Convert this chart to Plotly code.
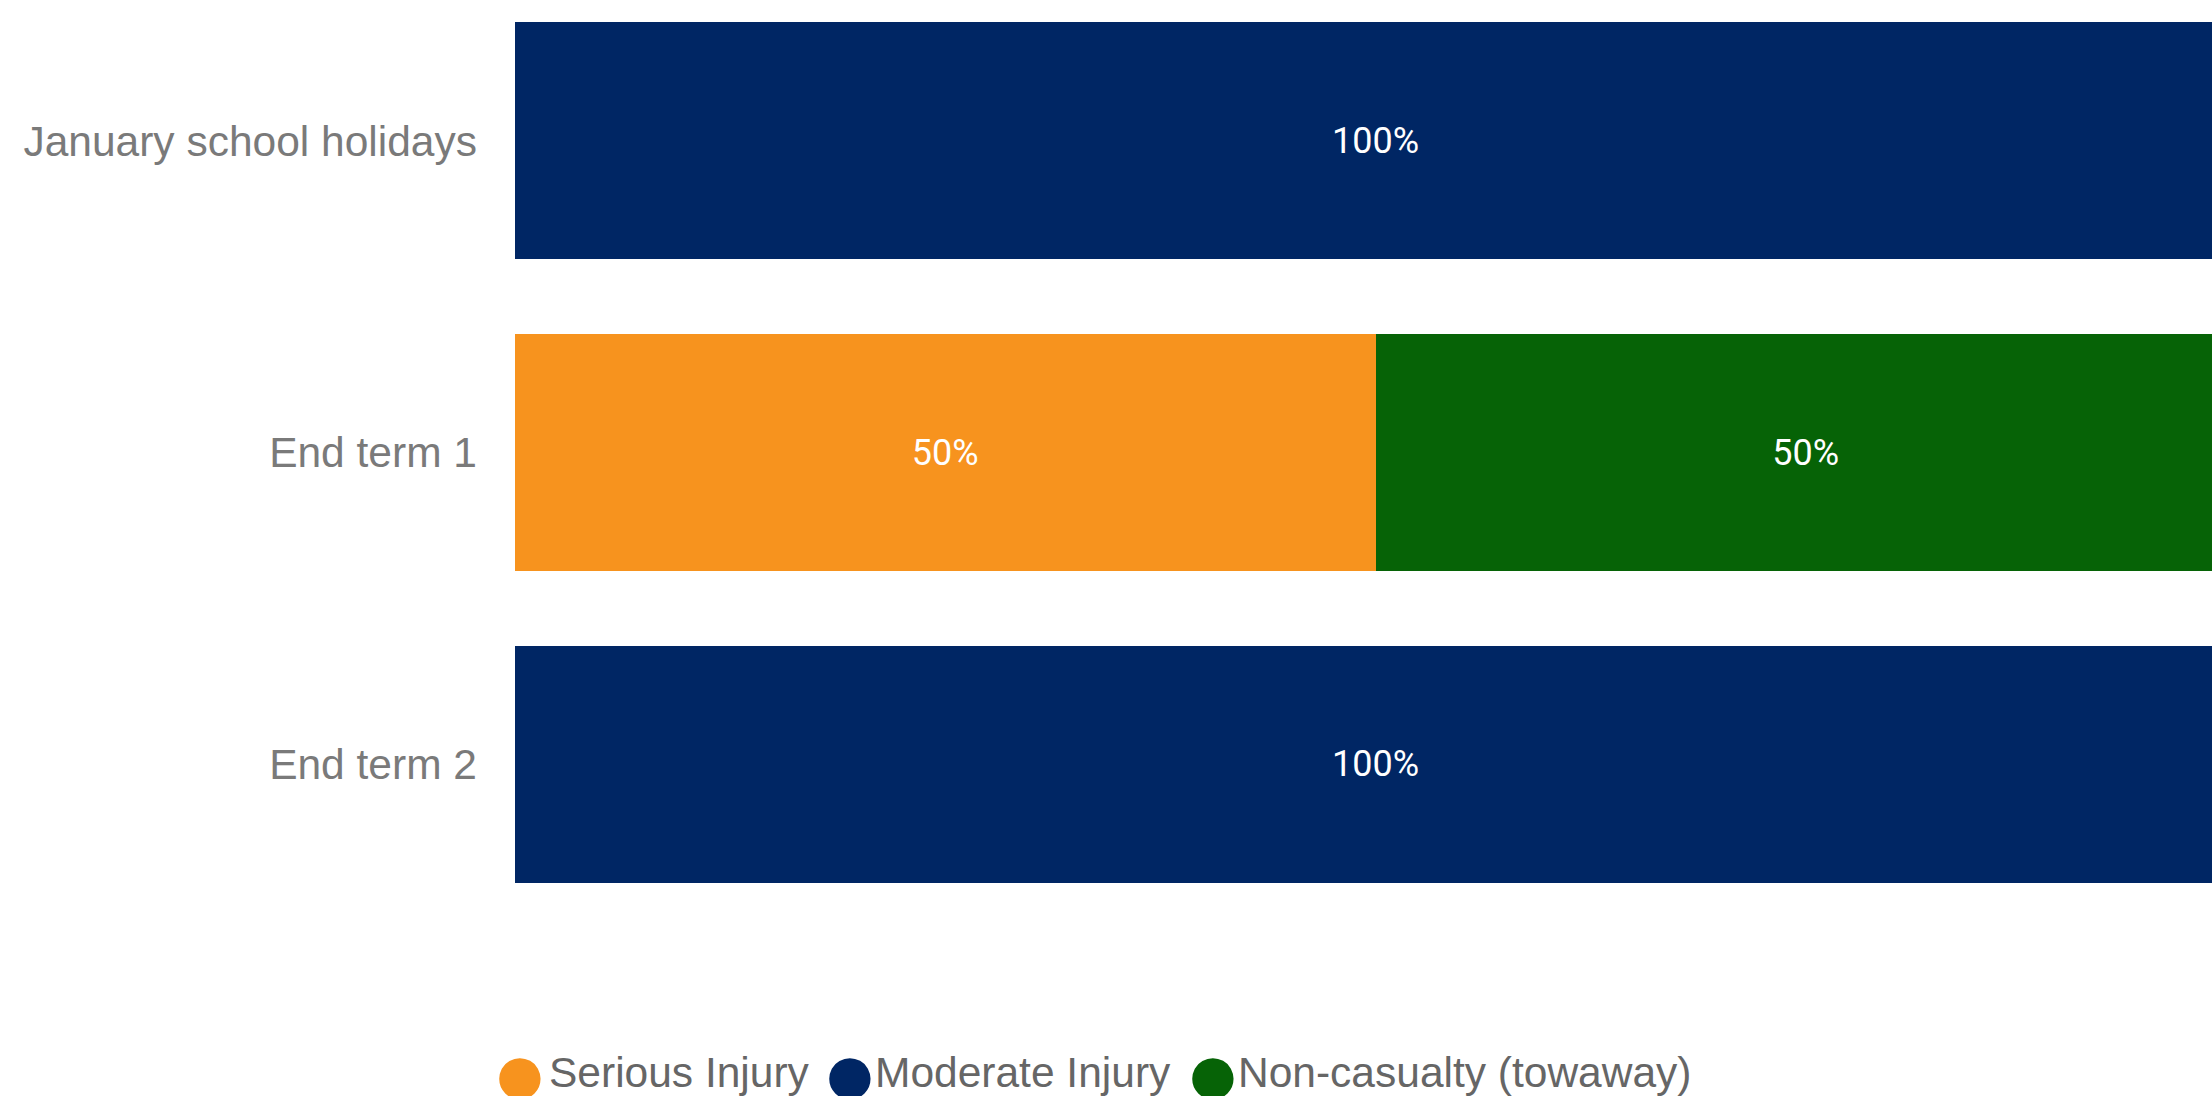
import plotly.graph_objects as go

categories = ["January school holidays", "End term 1", "End term 2"]
serious = [0, 50, 0]
moderate = [100, 0, 100]
noncasualty = [0, 50, 0]
series_names = ["Serious Injury", "Moderate Injury", "Non-casualty (towaway)"]
colors = ["#F7931E", "#002664", "#066306"]

fig = go.Figure()
for name, vals, col in zip(series_names, [serious, moderate, noncasualty], colors):
    fig.add_trace(go.Bar(
        y=categories, x=vals, orientation="h", name=name,
        marker=dict(color=col, line=dict(width=0)),
        text=[f"{v}%" if v > 0 else "" for v in vals],
        textposition="inside", insidetextanchor="middle",
        textfont=dict(family="Roboto", size=36, color="white"),
        showlegend=False, hoverinfo="skip",
    ))

# legend drawn as text annotations (circle glyph + label)
legend_circle_x = [0.0029, 0.1947, 0.4056]
legend_text_x = [0.0186, 0.208, 0.419]
legend_y = -0.166
for name, col, cx, tx in zip(series_names, colors, legend_circle_x, legend_text_x):
    fig.add_annotation(xref="paper", yref="paper", x=cx, y=legend_y,
                       text="●", showarrow=False, xanchor="center", yanchor="middle",
                       font=dict(family="Liberation Sans, Arial", size=96, color=col))
    fig.add_annotation(xref="paper", yref="paper", x=tx, y=legend_y,
                       text=name, showarrow=False, xanchor="left", yanchor="middle",
                       font=dict(family="Liberation Sans, Arial", size=42.5, color="#666666"))

fig.update_layout(
    width=2236, height=1096,
    barmode="stack", bargap=0.24,
    plot_bgcolor="white", paper_bgcolor="white",
    margin=dict(l=515, r=0, t=0, b=176),
    xaxis=dict(range=[0, 100], visible=False, fixedrange=True),
    yaxis=dict(range=[2.5, -0.452], showgrid=False, zeroline=False, showline=False,
               ticks="", ticklabelstandoff=37,
               tickfont=dict(family="Liberation Sans, Arial", size=42.5, color="#7a7a7a")),
    showlegend=False,
)

fig.write_html("out.html", config={"displayModeBar": False},
               post_script="document.body.style.margin='0';document.body.style.overflow='hidden';")
